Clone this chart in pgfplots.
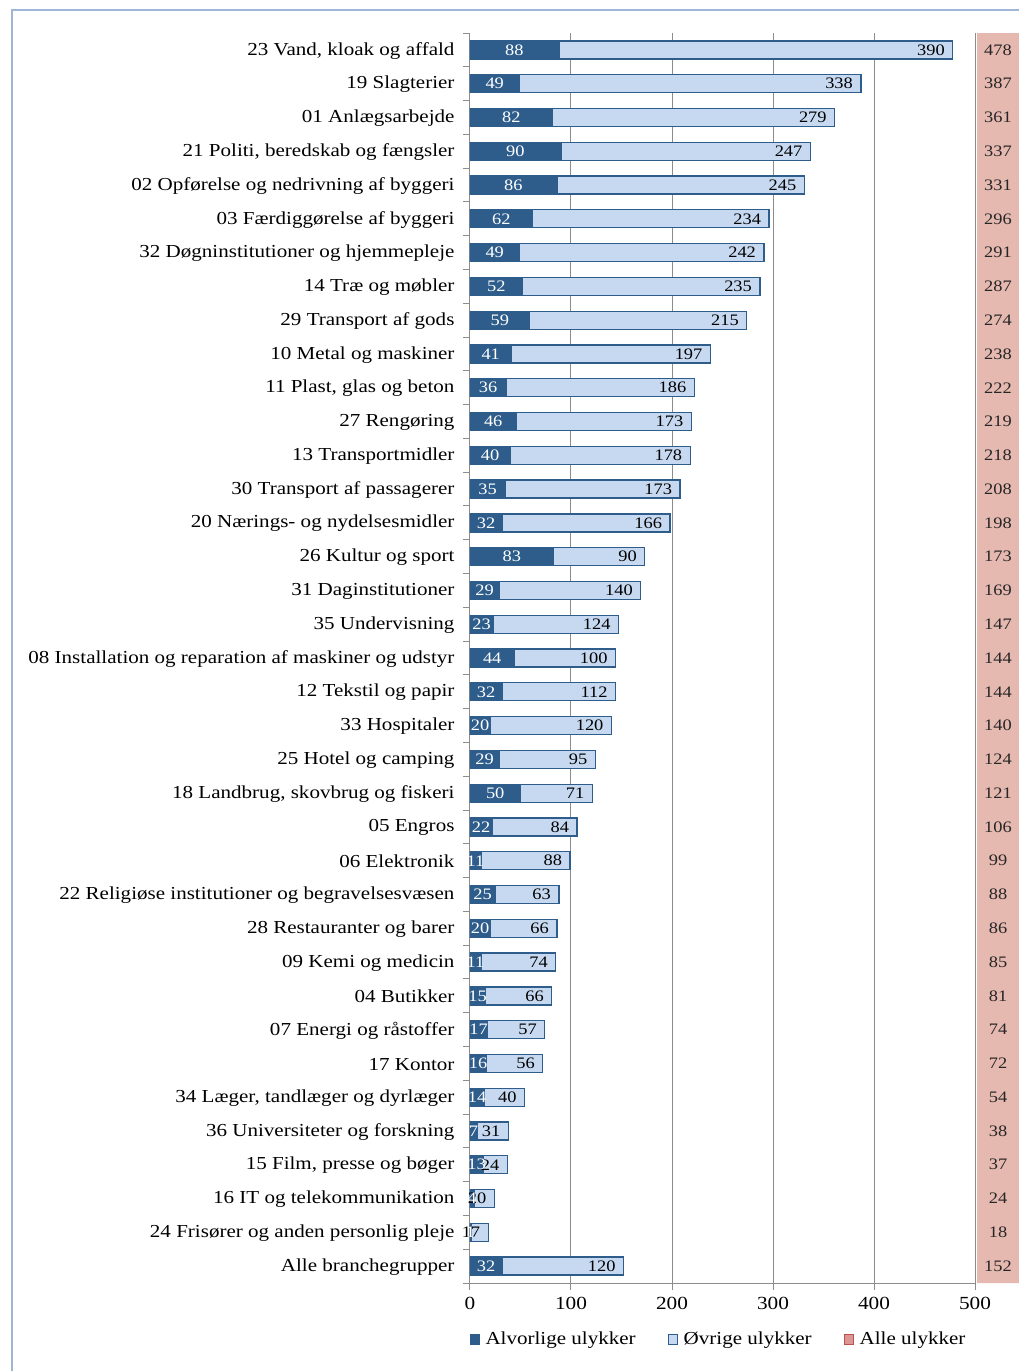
\documentclass[border=0pt]{standalone}
\usepackage{fontspec}
\setmainfont{Liberation Serif}[FakeStretch=1.15]
\usepackage{pgfplots}
\usepackage{pgfplotstable}
\pgfplotsset{compat=1.18}
\definecolor{dblue}{RGB}{46,93,140}
\definecolor{lblue}{RGB}{198,217,241}
\definecolor{pinkcol}{RGB}{229,184,176}
\definecolor{pinkleg}{RGB}{217,150,148}
\definecolor{pinkedge}{RGB}{192,80,77}
\definecolor{gridgray}{RGB}{140,140,140}
\definecolor{framecol}{RGB}{160,182,214}
\newcommand\lblfont{\fontsize{18.3}{21}\selectfont}
\newcommand\tickfont{\fontsize{18.5}{21}\selectfont}
\newcommand\datfont{\fontsize{16}{19}\selectfont}
\pgfplotstableread[col sep=semicolon]{
idx;label;s;o;t
0;23 Vand, kloak og affald;88;390;478
1;19 Slagterier;49;338;387
2;01 Anlægsarbejde;82;279;361
3;21 Politi, beredskab og fængsler;90;247;337
4;02 Opførelse og nedrivning af byggeri;86;245;331
5;03 Færdiggørelse af byggeri;62;234;296
6;32 Døgninstitutioner og hjemmepleje;49;242;291
7;14 Træ og møbler;52;235;287
8;29 Transport af gods;59;215;274
9;10 Metal og maskiner;41;197;238
10;11 Plast, glas og beton;36;186;222
11;27 Rengøring;46;173;219
12;13 Transportmidler;40;178;218
13;30 Transport af passagerer;35;173;208
14;20 Nærings- og nydelsesmidler;32;166;198
15;26 Kultur og sport;83;90;173
16;31 Daginstitutioner;29;140;169
17;35 Undervisning;23;124;147
18;08 Installation og reparation af maskiner og udstyr;44;100;144
19;12 Tekstil og papir;32;112;144
20;33 Hospitaler;20;120;140
21;25 Hotel og camping;29;95;124
22;18 Landbrug, skovbrug og fiskeri;50;71;121
23;05 Engros;22;84;106
24;06 Elektronik;11;88;99
25;22 Religiøse institutioner og begravelsesvæsen;25;63;88
26;28 Restauranter og barer;20;66;86
27;09 Kemi og medicin;11;74;85
28;04 Butikker;15;66;81
29;07 Energi og råstoffer;17;57;74
30;17 Kontor;16;56;72
31;34 Læger, tandlæger og dyrlæger;14;40;54
32;36 Universiteter og forskning;7;31;38
33;15 Film, presse og bøger;13;24;37
34;16 IT og telekommunikation;4;20;24
35;24 Frisører og anden personlig pleje;1;17;18
36;Alle branchegrupper;32;120;152
}\data
\begin{document}
\begin{tikzpicture}[x=1pt,y=1pt]
\useasboundingbox (0,0) rectangle (1019,1371);
\draw[framecol, line width=1.2pt] (12,0) -- (12,1361) -- (1019,1361);
\begin{axis}[
  at={(470pt,88pt)}, anchor=south west,
  scale only axis, width=505pt, height=1250pt,
  xmin=0, xmax=500, ymin=-0.5, ymax=36.5, y dir=reverse,
  /pgf/number format/assume math mode=true,
  axis x line*=bottom, axis y line*=left,
  axis line style={gridgray, line width=1pt, -},
  xtick={0,100,...,500}, xmajorgrids,
  grid style={gridgray, line width=1pt},
  tick style={gridgray, line width=1pt},
  tick align=outside, major tick length=7pt,
  ytick={-0.5,0.5,...,36.5},
  yticklabels from table={\data}{label},
  yticklabel style={yshift=-17.6pt, xshift=-5pt, font=\lblfont, text=black},
  xticklabel style={yshift=-4pt, font=\tickfont, text=black},
  legend style={at={(0.5,0)}, anchor=north, yshift=-45pt, xshift=-4pt, draw=none, fill=none,
    legend columns=3, font=\lblfont,
    /tikz/every even column/.append style={column sep=30pt}},
  legend cell align=left,
  legend image code/.code={\draw[#1] (0pt,-5pt) rectangle (9pt,5pt); \path (13pt,0pt);},
]
\addplot[forget plot, xbar, bar width=18pt, bar shift=0pt, fill=lblue, draw=dblue, line width=1.3pt,
  nodes near coords, point meta=\thisrow{o},
  every node near coord/.append style={anchor=east, xshift=-4pt, font=\datfont, text=black}]
  table[x=t, y=idx]{\data};
\addplot[forget plot, xbar, bar width=18pt, bar shift=0pt, fill=dblue, draw=dblue, line width=1.3pt]
  table[x=s, y=idx]{\data};
\addplot[forget plot, only marks, mark=none,
  nodes near coords, point meta=\thisrow{s},
  every node near coord/.append style={anchor=center, font=\datfont, text=white}]
  table[x expr=\thisrow{s}/2, y=idx]{\data};
\addlegendimage{fill=dblue, draw=dblue, line width=1pt}
\addlegendentry{Alvorlige ulykker}
\addlegendimage{fill=lblue, draw=dblue, line width=1pt}
\addlegendentry{Øvrige ulykker}
\addlegendimage{fill=pinkleg, draw=pinkedge, line width=1pt}
\addlegendentry{Alle ulykker}
\end{axis}
\begin{axis}[
  at={(977pt,88pt)}, anchor=south west,
  scale only axis, width=42pt, height=1250pt,
  xmin=0, xmax=1, ymin=-0.5, ymax=36.5, y dir=reverse,
  /pgf/number format/assume math mode=true,
  hide axis, clip=false]
\addplot[xbar, bar width=1, bar shift=0pt, fill=pinkcol, draw=none,
  nodes near coords, point meta=\thisrow{t},
  every node near coord/.append style={anchor=center, xshift=-21pt, font=\datfont, text=black!85}]
  table[x expr=1, y=idx]{\data};
\end{axis}
\end{tikzpicture}
\end{document}
